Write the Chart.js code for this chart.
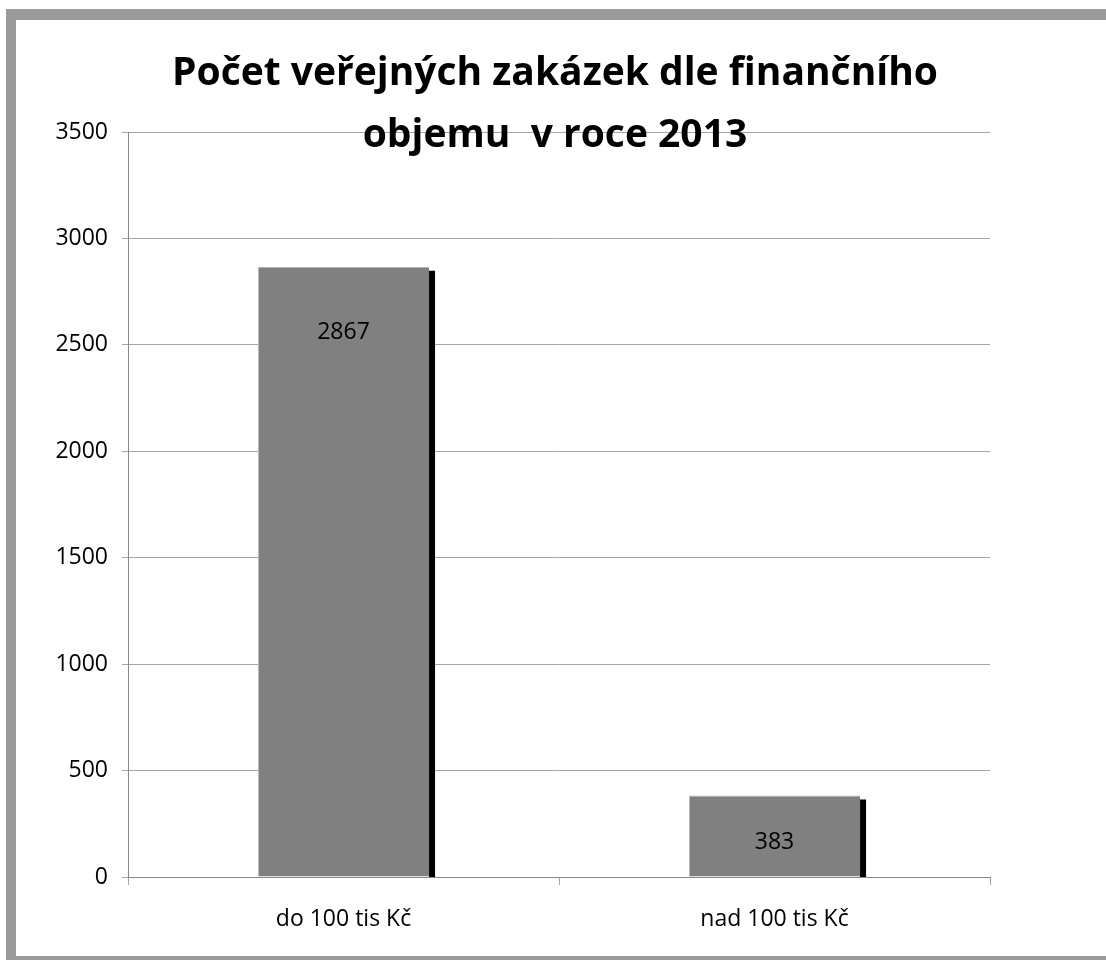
<!DOCTYPE html>
<html>
<head>
<meta charset="utf-8">
<script src="https://cdn.jsdelivr.net/npm/chart.js@4"></script>
<style>
  html, body { margin: 0; padding: 0; background: #fff; }
  #frame {
    position: absolute; left: 6px; top: 9px; width: 1100px; height: 951px;
    box-sizing: border-box;
    border-top: 11px solid #9a9a9a; border-left: 10px solid #9a9a9a; border-bottom: 4px solid #9a9a9a;
  }
  #wrap { position: absolute; left: 0; top: 0; width: 1090px; height: 936px; }
  #title {
    position: absolute; left: 0; top: 0; width: 1090px; text-align: center;
    font-family: 'Open Sans', sans-serif; font-weight: bold; font-size: 39px;
    line-height: 62px; padding-top: 19px; color: #000; pointer-events: none;
    margin-left: -6px; white-space: pre;
  }
</style>
</head>
<body>
<div id="frame">
  <div id="wrap"><canvas id="chart"></canvas></div>
  <div id="title">Počet veřejných zakázek dle finančního
objemu  v roce 2013</div>
</div>
<script>
const categories = ['do 100 tis Kč', 'nad 100 tis Kč'];
const counts = [2867, 383];
const yTicks = [0, 500, 1000, 1500, 2000, 2500, 3000, 3500];

const FONT = "'Open Sans', sans-serif";

// black shadow on the right side of each bar
const barShadow = {
    id: 'barShadow',
    beforeDatasetsDraw(chart) {
        const ctx = chart.ctx;
        const base = chart.scales.y.getPixelForValue(0);
        chart.getDatasetMeta(0).data.forEach(bar => {
            const right = bar.x + bar.width / 2;
            ctx.save();
            ctx.fillStyle = '#000';
            ctx.fillRect(right, bar.y + 4, 6, base - bar.y - 4);
            ctx.restore();
        });
    }
};

// value labels inside the bars
const valueLabels = {
    id: 'valueLabels',
    afterDatasetsDraw(chart) {
        const ctx = chart.ctx;
        const offsets = [66, 47];
        ctx.save();
        ctx.font = '23px ' + FONT;
        ctx.fillStyle = '#000';
        ctx.textAlign = 'center';
        ctx.textBaseline = 'middle';
        chart.getDatasetMeta(0).data.forEach((bar, i) => {
            ctx.fillText(String(counts[i]), bar.x, bar.y + offsets[i]);
        });
        ctx.restore();
    }
};

new Chart(document.getElementById('chart'), {
    type: 'bar',
    data: {
        labels: categories,
        datasets: [{
            data: counts,
            backgroundColor: '#808080',
            borderColor: '#b8b8b8',
            borderWidth: { top: 1, left: 1, right: 0, bottom: 0 },
            borderSkipped: false,
            barPercentage: 0.397,
            categoryPercentage: 1
        }]
    },
    options: {
        responsive: true,
        maintainAspectRatio: false,
        animation: false,
        layout: { padding: { left: 0, top: 112, right: 116, bottom: 0 } },
        plugins: {
            legend: { display: false },
            tooltip: { enabled: false }
        },
        scales: {
            y: {
                min: 0,
                max: 3500,
                afterBuildTicks: (scale) => { scale.ticks = yTicks.map(v => ({ value: v })); },
                afterFit: (scale) => { scale.width = 112; },
                ticks: {
                    color: '#000', font: { family: FONT, size: 23 }, padding: 14,
                    callback: (v) => String(v)
                },
                grid: { color: '#a6a6a6', tickLength: 6, lineWidth: 1 },
                border: { color: '#888888' }
            },
            x: {
                afterFit: (scale) => { scale.height = 79; },
                ticks: { color: '#000', font: { family: FONT, size: 23 }, padding: 21 },
                grid: { drawOnChartArea: false, drawTicks: true, tickLength: 8, color: '#a6a6a6', offset: true },
                border: { color: '#888888' }
            }
        }
    },
    plugins: [barShadow, valueLabels]
});
</script>
</body>
</html>
